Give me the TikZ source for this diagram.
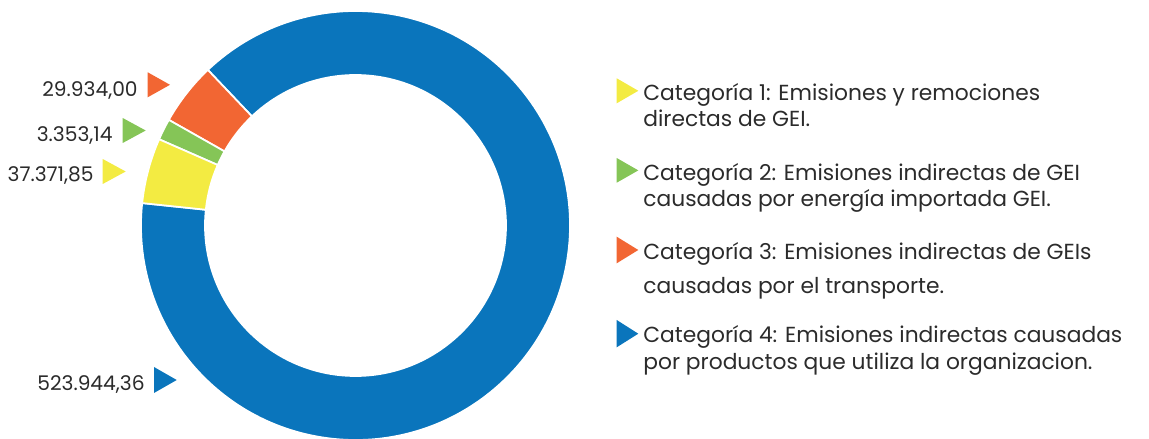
\documentclass[tikz,border=0pt]{standalone}
\usepackage{fontspec}
\setmainfont{Poppins}
\usepackage{tikz}

\definecolor{catblue}{HTML}{0A75BC}
\definecolor{catorange}{HTML}{F26633}
\definecolor{catgreen}{HTML}{85C557}
\definecolor{catyellow}{HTML}{F3EB42}
\definecolor{txtgray}{HTML}{2B2B2B}

\tikzset{
  slice/.style={draw=white, line width=1pt},
  numlabel/.style={anchor=base east, inner sep=0pt, text=txtgray, font=\fontsize{11.5}{14}\selectfont},
  catlabel/.style={anchor=base west, inner sep=0pt, text=txtgray, font=\fontsize{12.4}{15}\selectfont}
}

\begin{document}
\begin{tikzpicture}[x=0.02cm, y=0.02cm]

\useasboundingbox (0,0) rectangle (1149,439);

%% donut slices
\begin{scope}[shift={(355.5,213.5)}]
\fill[catblue, slice] (-186:214.5) arc (-186:133.5:214.5) -- (133.5:150.5) arc (133.5:-186:150.5) -- cycle;   %% cat 4
\fill[catorange, slice] (133.5:214.5) arc (133.5:150.5:214.5) -- (150.5:150.5) arc (150.5:133.5:150.5) -- cycle; %% cat 3
\fill[catgreen, slice] (150.5:214.5) arc (150.5:156.3:214.5) -- (156.3:150.5) arc (156.3:150.5:150.5) -- cycle;  %% cat 2
\fill[catyellow, slice] (156.3:214.5) arc (156.3:174:214.5) -- (174:150.5) arc (174:156.3:150.5) -- cycle;      %% cat 1
\end{scope}

%% value labels
\node[numlabel] (v3) at (138,342.3) {29.934,00};
\node[numlabel] (v2) at (113,297.3) {3.353,14};
\node[numlabel] (v1) at (94,257.3) {37.371,85};
\node[numlabel] (v4) at (145,48.3) {523.944,36};

%% value markers
\fill[catorange] (147.7,366.7) -- (147.7,341.7) -- (170,354.2) -- cycle;  %% v3
\fill[catgreen] (122.7,321) -- (122.7,296) -- (145.7,308.5) -- cycle;     %% v2
\fill[catyellow] (102.7,280) -- (102.7,255) -- (125.7,267.5) -- cycle;    %% v1
\fill[catblue] (154,72) -- (154,46) -- (176.7,59) -- cycle;               %% v4

%% legend markers
\fill[catyellow] (616.7,360.7) -- (616.7,335.7) -- (638.3,348.2) -- cycle;  %% cat 1
\fill[catgreen] (616.7,281) -- (616.7,256.3) -- (638.3,268.6) -- cycle;     %% cat 2
\fill[catorange] (616.7,202.3) -- (616.7,175.7) -- (638.3,189) -- cycle;    %% cat 3
\fill[catblue] (616.7,119) -- (616.7,91.7) -- (638.3,105.3) -- cycle;       %% cat 4

%% legend text
\node[catlabel] (cat1a) at (643,338.3) {Categoría 1: Emisiones y remociones};
\node[catlabel] (cat1b) at (643,312.3) {directas de GEI.};
\node[catlabel] (cat2a) at (643,258.3) {Categoría 2: Emisiones indirectas de GEI};
\node[catlabel] (cat2b) at (643,232.3) {causadas por energía importada GEI.};
\node[catlabel] (cat3a) at (643,179.7) {Categoría 3: Emisiones indirectas de GEIs};
\node[catlabel] (cat3b) at (643,145) {causadas por el transporte.};
\node[catlabel] (cat4a) at (643,96.3) {Categoría 4: Emisiones indirectas causadas};
\node[catlabel] (cat4b) at (643,69) {por productos que utiliza la organizacion.};

\end{tikzpicture}
\end{document}
